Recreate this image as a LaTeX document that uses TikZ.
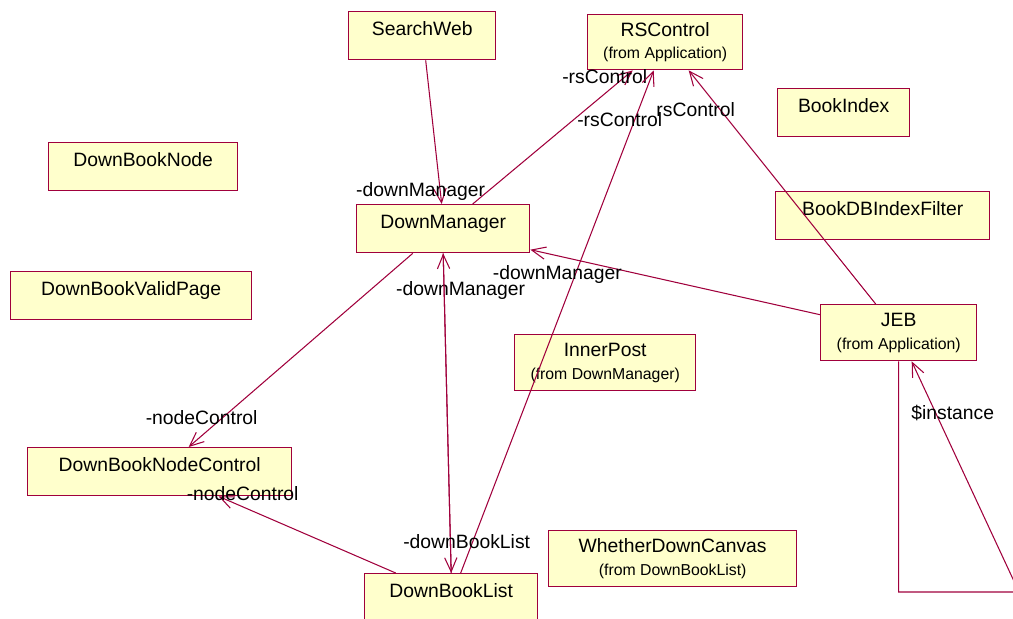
\documentclass[tikz,border=0pt]{standalone}
\usepackage{fontspec}
\setmainfont{Liberation Sans}
\usetikzlibrary{arrows.meta}

\definecolor{umlred}{RGB}{160,0,60}
\definecolor{umlfill}{RGB}{255,255,204}

\begin{document}
\begin{tikzpicture}[x=0.02cm, y=-0.02cm,
  classbox/.style={draw=umlred, fill=umlfill, line width=0.8pt, inner sep=0pt,
    anchor=north west, align=center, font=\fontsize{11}{13}\selectfont},
  onerow/.style={text height=8pt, text depth=8pt},
  assoc/.style={umlred, line width=0.6pt, -{Straight Barb[length=8pt,width=7pt]}},
  role/.style={font=\fontsize{11}{13}\selectfont, inner sep=1pt, text=black}]

\useasboundingbox (0,0) rectangle (1013,618);
\clip (0,0) rectangle (1013,618);

% classes
\node[classbox, onerow, minimum width=2.94cm, minimum height=0.96cm] (sw) at (348,11) {SearchWeb};
\node[classbox, minimum width=3.10cm, minimum height=1.10cm] (rsc) at (587,14) {RSControl\\{\fontsize{9}{11}\selectfont (from Application)}};
\node[classbox, onerow, minimum width=2.64cm, minimum height=0.96cm] (bi) at (777,88) {BookIndex};
\node[classbox, onerow, minimum width=4.28cm, minimum height=0.96cm] (bdf) at (775,191) {BookDBIndexFilter};
\node[classbox, onerow, minimum width=3.78cm, minimum height=0.96cm] (dbn) at (48,142) {DownBookNode};
\node[classbox, onerow, minimum width=3.46cm, minimum height=0.96cm] (dm) at (356,204) {DownManager};
\node[classbox, onerow, minimum width=4.82cm, minimum height=0.96cm] (dbvp) at (10,271) {DownBookValidPage};
\node[classbox, minimum width=3.62cm, minimum height=1.12cm] (ip) at (514,334) {InnerPost\\{\fontsize{9}{11}\selectfont (from DownManager)}};
\node[classbox, minimum width=3.12cm, minimum height=1.12cm] (jeb) at (820,304) {JEB\\{\fontsize{9}{11}\selectfont (from Application)}};
\node[classbox, onerow, minimum width=5.28cm, minimum height=0.96cm] (dbnc) at (27,447) {DownBookNodeControl};
\node[classbox, onerow, minimum width=3.46cm, minimum height=0.96cm] (dbl) at (364,573) {DownBookList};
\node[classbox, minimum width=4.96cm, minimum height=1.12cm] (wdc) at (548,530) {WhetherDownCanvas\\{\fontsize{9}{11}\selectfont (from DownBookList)}};

% associations
\draw[assoc] ([xshift=0.07cm]sw.south) -- node[role, pos=1, xshift=-0.42cm, yshift=0.24cm] {-downManager} ([xshift=-0.03cm]dm.north);
\draw[assoc] ([xshift=0.59cm]dm.north) -- node[role, pos=1, xshift=-0.56cm, yshift=-0.12cm] {-rsControl} ([xshift=-0.65cm]rsc.south);
\draw[assoc] ([xshift=0.19cm]dbl.north) -- node[role, pos=1, xshift=-0.68cm, yshift=-0.98cm] {-rsControl} ([xshift=-0.23cm]rsc.south);
\draw[assoc] ([xshift=-0.46cm]jeb.north) -- node[role, pos=1, xshift=0.14cm, yshift=-0.78cm] {rsControl} ([xshift=0.47cm]rsc.south);
\draw[assoc] ([yshift=0.36cm]jeb.west) -- node[role, pos=1, xshift=0.54cm, yshift=-0.5cm] {-downManager} ([yshift=-0.42cm]dm.east);

\draw[assoc] ([xshift=-0.61cm]dm.south) -- node[role, pos=1, xshift=0.26cm, yshift=0.58cm] {-nodeControl} ([xshift=0.58cm]dbnc.north);
\draw[assoc] ([xshift=-1.11cm]dbl.north) -- node[role, pos=1, xshift=0.48cm, yshift=0.06cm] {-nodeControl} ([xshift=1.18cm]dbnc.south);

\draw[assoc] (dbl.north) -- node[role, pos=1, xshift=0.35cm, yshift=-0.74cm] {-downManager} (dm.south);
\draw[assoc] (dm.south) -- node[role, pos=1, xshift=0.31cm, yshift=0.62cm] {-downBookList} (dbl.north);

% JEB to itself
\coordinate (loopcorner) at (1019,592);
\draw[assoc] (jeb.south) |- (loopcorner) -- node[role, pos=1, xshift=0.82cm, yshift=-1.04cm] {\$instance} ([xshift=0.26cm]jeb.south);

\end{tikzpicture}
\end{document}
